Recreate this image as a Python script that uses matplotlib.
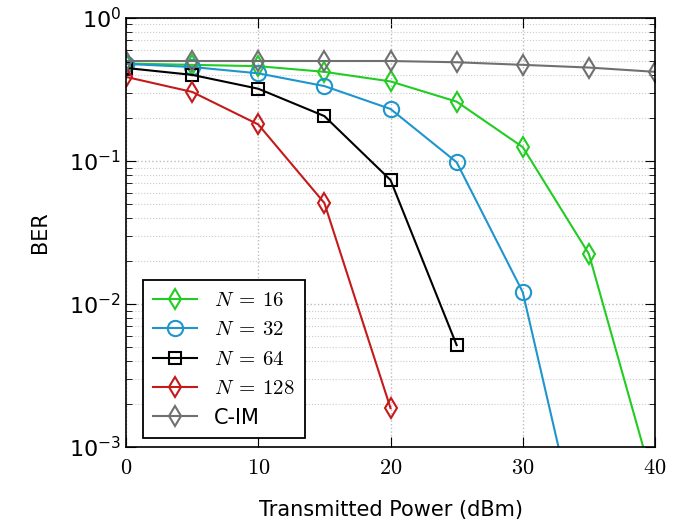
import matplotlib.pyplot as plt
from matplotlib.ticker import LogLocator, NullFormatter

plt.rcParams['mathtext.fontset'] = 'cm'

power = [0, 5, 10, 15, 20, 25, 30, 35, 40]

ber_16 = [0.48, 0.47, 0.46, 0.42, 0.36, 0.26, 0.125, 0.0224, 5.1e-4]
ber_32 = [0.477, 0.454, 0.41, 0.334, 0.231, 0.098, 0.0121, 1.2e-4]
ber_64 = [0.447, 0.40, 0.32, 0.206, 0.0736, 0.00516]
ber_128 = [0.387, 0.304, 0.18, 0.0508, 0.00187]
ber_cim = [0.50, 0.50, 0.50, 0.50, 0.50, 0.49, 0.47, 0.45, 0.42]

fig = plt.figure(figsize=(6.83, 5.28), dpi=100)
ax = fig.add_axes([0.1845, 0.1534, 0.7745, 0.8126])

ax.plot(power[:len(ber_16)], ber_16, color='#22cc22', marker='d', ms=10,
        mfc='none', mew=1.5, lw=1.5, label=r'$N\:=\:16$')
ax.plot(power[:len(ber_32)], ber_32, color='#1e96cc', marker='o', ms=11,
        mfc='none', mew=1.5, lw=1.5, label=r'$N\:=\:32$')
ax.plot(power[:len(ber_64)], ber_64, color='black', marker='s', ms=9,
        mfc='none', mew=1.5, lw=1.5, label=r'$N\:=\:64$')
ax.plot(power[:len(ber_128)], ber_128, color='#c41a1a', marker='d', ms=10,
        mfc='none', mew=1.5, lw=1.5, label=r'$N\:=\:128$')
ax.plot(power, ber_cim, color='#707070', marker='d', ms=10,
        mfc='none', mew=1.5, lw=1.5, label='C-IM')

ax.set_yscale('log')
ax.set_xlim(0, 40)
ax.set_ylim(1e-3, 1)
ax.set_xticks([0, 10, 20, 30, 40])
ax.set_xticklabels(['$0$', '$10$', '$20$', '$30$', '$40$'])
ax.yaxis.set_major_locator(LogLocator(base=10, numticks=5))
ax.yaxis.set_minor_locator(LogLocator(base=10, subs=range(2, 10), numticks=20))
ax.yaxis.set_minor_formatter(NullFormatter())
ax.tick_params(axis='both', which='both', direction='in', top=True, right=True,
               labelsize=16)
ax.tick_params(axis='x', pad=8)
ax.tick_params(which='major', length=7)
ax.tick_params(which='minor', length=4)

ax.grid(True, which='major', color='#bbbbbb', ls=':', lw=1)
ax.grid(True, which='minor', axis='y', color='#cccccc', ls=':', lw=0.8)

ax.set_xlabel('Transmitted Power (dBm)', fontsize=15, labelpad=16)
ax.set_ylabel('BER', fontsize=15, labelpad=14)

for s in ax.spines.values():
    s.set_linewidth(1.2)

leg = ax.legend(loc='lower left', bbox_to_anchor=(0.032, 0.021),
                borderaxespad=0, fontsize=15, fancybox=False, framealpha=1,
                edgecolor='black', handlelength=2.1,
                labelspacing=0.45, borderpad=0.5)
leg.get_frame().set_linewidth(1.3)

fig.savefig('out.png')
